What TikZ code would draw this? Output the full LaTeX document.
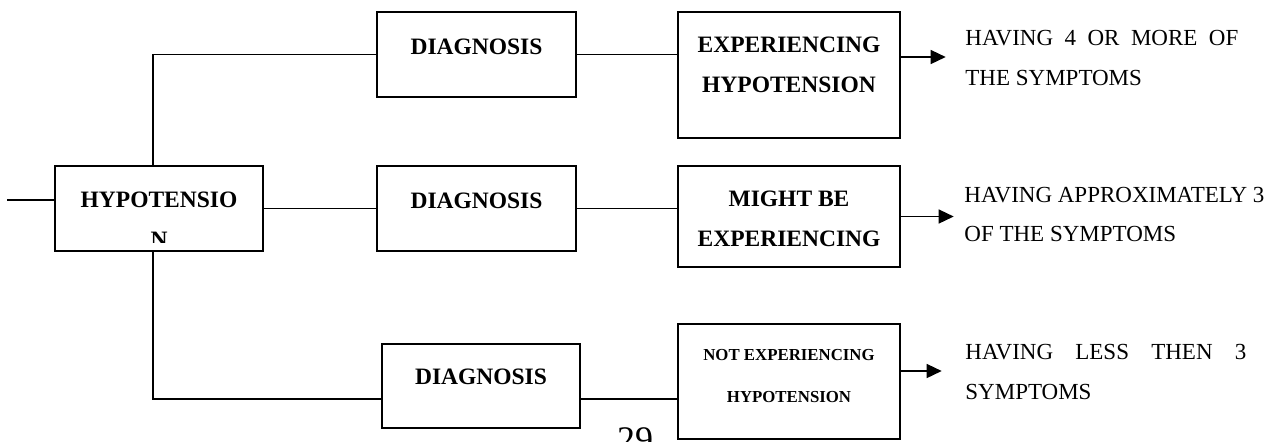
\documentclass[tikz,border=0pt]{standalone}
\usepackage{fontspec}
\setmainfont{Liberation Serif}
\usepackage{tikz}
\usetikzlibrary{arrows.meta}
\newcommand{\twoc}[2]{\begin{tabular}[t]{@{}c@{}}#1\\#2\end{tabular}}
\newcommand{\twol}[2]{\begin{tabular}[t]{@{}l@{}}#1\\#2\end{tabular}}
\tikzset{
  blk/.style={draw,line width=0.7pt,inner sep=0pt,anchor=base,font=\fontsize{11.75}{20}\selectfont\bfseries},
  res/.style={anchor=base west,inner sep=0pt,font=\fontsize{11.5}{20}\selectfont},
  wire/.style={line width=0.7pt},
  ar/.style={wire,-{Triangle[length=7.5pt,width=7pt]}},
}
\begin{document}
\begin{tikzpicture}[x=0.5pt,y=-0.5pt]
  \useasboundingbox (0,0) rectangle (1279,441);
  \node[blk,anchor=center,minimum width=104pt,minimum height=42.5pt,
    path picture={\clip ([yshift=4.5pt]path picture bounding box.south west) rectangle (path picture bounding box.north east);
      \node[anchor=base,inner sep=0pt,font=\fontsize{11.75}{20}\selectfont\bfseries] at ([yshift=-20.5pt]path picture bounding box.north) {\twoc{HYPOTENSIO}{N}};}] (hyp) at (159,208.5) {};
  \node[blk,minimum width=99.5pt,text height=21pt,text depth=21.5pt] (dtop) at (476.5,54) {DIAGNOSIS};
  \node[blk,minimum width=99.5pt,text height=21pt,text depth=21.5pt] (dmid) at (476.5,208) {DIAGNOSIS};
  \node[blk,minimum width=99pt,text height=20pt,text depth=22pt] (dbot) at (481,384) {DIAGNOSIS};
  \node[blk,minimum width=111pt,text height=20pt,text depth=43pt] (etop) at (789,52) {\twoc{EXPERIENCING}{HYPOTENSION}};
  \node[blk,minimum width=111pt,text height=20pt,text depth=30.5pt] (emid) at (789,206) {\twoc{MIGHT BE}{EXPERIENCING}};
  \node[blk,minimum width=111pt,text height=18pt,text depth=39.5pt,font=\fontsize{8.4}{21}\selectfont\bfseries] (ebot) at (789,360) {\twoc{NOT EXPERIENCING}{HYPOTENSION}};
  \node[res] (r1) at (965,45) {\twol{\makebox[136.5pt][s]{HAVING 4 OR MORE OF}}{THE SYMPTOMS}};
  \node[res,font=\fontsize{11.5}{19.5}\selectfont] (r2) at (964,202) {\twol{HAVING APPROXIMATELY 3}{OF THE SYMPTOMS}};
  \node[res] (r3) at (965,359) {\twol{\makebox[140.5pt][s]{HAVING LESS THEN 3}}{SYMPTOMS}};
  \node[anchor=base,inner sep=0pt,font=\fontsize{18}{20}\selectfont] (pg) at (635,451) {29};
  \coordinate (in) at (7,200);
  \draw[wire] (in) -- (in -| hyp.west);
  \draw[wire] (hyp.east) -- (dmid.west);
  \draw[wire] ([xshift=-3pt]hyp.north) |- (dtop.west);
  \draw[wire] ([xshift=-3pt]hyp.south) |- ([yshift=-6.5pt]dbot.west);
  \draw[wire] (dtop.east) -- (dtop.east -| etop.west);
  \draw[wire] (dmid.east) -- (dmid.east -| emid.west);
  \draw[wire] ([yshift=-6.5pt]dbot.east) -- ([yshift=-8.75pt]ebot.west);
  \draw[ar] ([yshift=9pt]etop.east) -- +(22.5pt,0);
  \draw[ar] (emid.east) -- +(26.5pt,0);
  \draw[ar] ([yshift=5.25pt]ebot.east) -- +(20.5pt,0);
\end{tikzpicture}
\end{document}
